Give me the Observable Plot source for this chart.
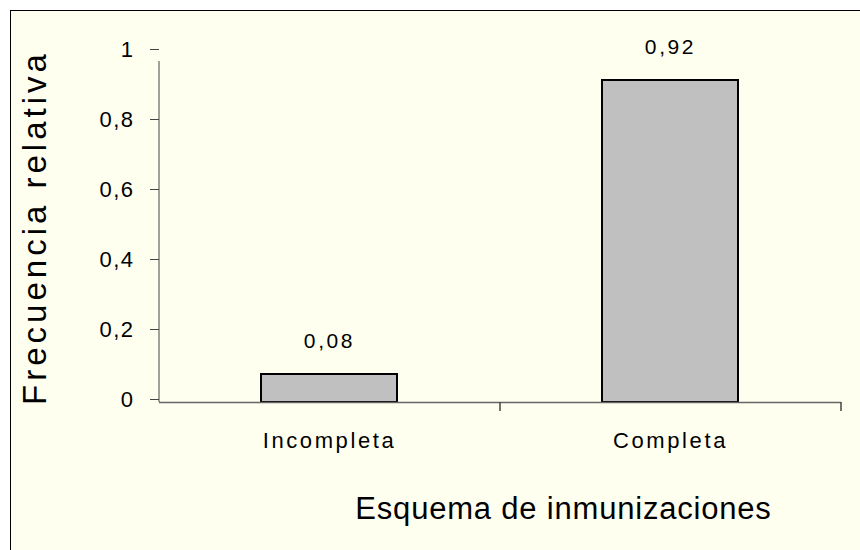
<!DOCTYPE html>
<html>
<head>
<meta charset="utf-8">
<script src="https://cdn.jsdelivr.net/npm/d3@7"></script>
<script src="https://cdn.jsdelivr.net/npm/@observablehq/plot@0.6"></script>
<style>
  html, body { margin: 0; padding: 0; background: #ffffff; overflow: hidden; }
  #wrap { position: relative; width: 860px; height: 550px; overflow: hidden; }
  #frame { position: absolute; left: 10px; top: 10px; width: 900px; height: 600px;
           border: 1px solid #000; background: #FFFFF0; box-sizing: border-box; }
  #chart { position: absolute; left: 0; top: 0; }
</style>
</head>
<body>
<div id="wrap"><div id="frame"></div><div id="chart"></div></div>
<script>
const categories = ["Incompleta", "Completa"];
const values = [0.08, 0.92];
const yTicks = [0, 0.2, 0.4, 0.6, 0.8, 1];
const yTitle = "Frecuencia relativa";
const xTitle = "Esquema de inmunizaciones";

const data = categories.map((c, i) => ({cat: c, value: values[i]}));
const fmt = d => String(d).replace(".", ",");

const W = 860, H = 550;
const mL = 159, mR = 19, mT = 52, mB = 148;
const step = (W - mL - mR) / categories.length;
const axisColor = "#444";

const chart = Plot.plot({
  width: W,
  height: H,
  marginLeft: mL,
  marginRight: mR,
  marginTop: mT,
  marginBottom: mB,
  style: {background: "transparent", fontFamily: "'Liberation Sans', Arial, sans-serif", color: "#000", fontSize: "22px"},
  x: {domain: categories, paddingInner: 0.6, paddingOuter: 0.3, label: null},
  y: {domain: [0, 1], label: null},
  marks: [
    Plot.barY(data, {x: "cat", y: "value", fill: "#C0C0C0", stroke: "#000", strokeWidth: 2}),
    Plot.ruleY([0], {stroke: "#666", strokeWidth: 1.5}),
    Plot.ruleX([categories[0]], {x: d => d, y1: 0, y2: 1, dx: -step / 2, insetBottom: -9, stroke: axisColor}),
    Plot.ruleX(categories.slice(1), {x: d => d, y1: 0, y2: 0, dx: -step / 2, insetBottom: -9, stroke: axisColor, strokeWidth: 1.5}),
    Plot.ruleX([categories[categories.length - 1]], {x: d => d, y1: 0, y2: 0, dx: step / 2, insetBottom: -9, stroke: axisColor, strokeWidth: 1.5}),
    Plot.axisY({ticks: yTicks, tickFormat: fmt, tickSize: 9, tickPadding: 16, label: null, fontSize: 22, dy: -3, stroke: axisColor}),
    Plot.axisX({tickSize: 0, tickPadding: 30, label: null, fontSize: 22}),
    Plot.text(data, {x: "cat", y: "value", text: d => fmt(d.value), dy: -27, lineAnchor: "bottom", fontSize: 21, fill: "#000"}),
    Plot.text([yTitle], {text: d => d, frameAnchor: "left", textAnchor: "middle", rotate: -90, dx: -114, lineAnchor: "bottom", fontSize: 33, fill: "#000"}),
    Plot.text([xTitle], {text: d => d, frameAnchor: "bottom", textAnchor: "middle", dx: 63, dy: 116, lineAnchor: "bottom", fontSize: 31, fill: "#000"})
  ]
});

// letter spacing to mimic the original rendering
const valueLabels = values.map(fmt);
const tickLabels = yTicks.map(fmt);
d3.select(chart).selectAll("text").each(function() {
  const t = this.textContent;
  let ls = null;
  if (t === yTitle) ls = "4px";
  else if (t === xTitle) ls = "0.8px";
  else if (categories.includes(t)) ls = "2.6px";
  else if (valueLabels.includes(t)) ls = "2.6px";
  else if (tickLabels.includes(t)) ls = "1.5px";
  if (ls) this.style.letterSpacing = ls;
});
document.getElementById("chart").appendChild(chart);
</script>
</body>
</html>
